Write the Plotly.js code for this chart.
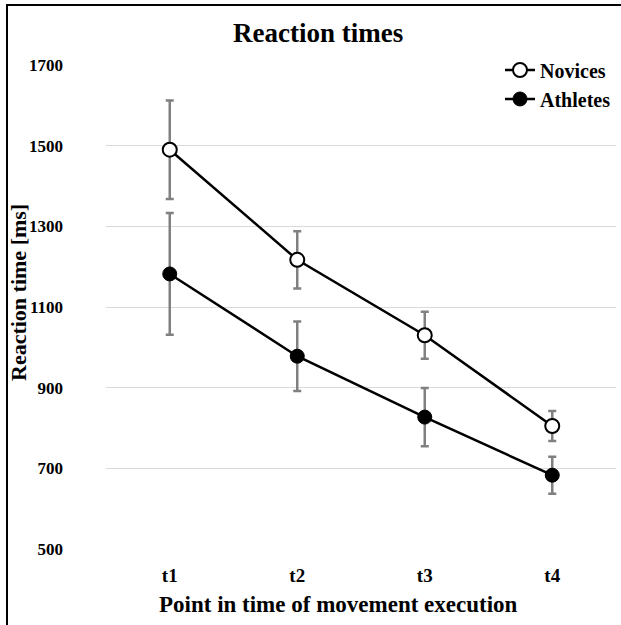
<!DOCTYPE html>
<html>
<head>
<meta charset="utf-8">
<script src="https://cdn.plot.ly/plotly-3.0.1.min.js"></script>
<style>
  html, body { margin: 0; padding: 0; background: #fff; overflow: hidden; }
  #chart { position: absolute; left: 0; top: 0; width: 621px; height: 625px; }
  #frame { position: absolute; left: 6px; top: 4px; width: 700px; height: 700px;
           border-left: 2px solid #000; border-top: 2px solid #000; pointer-events: none; }
</style>
</head>
<body>
<div id="chart"></div>
<div id="frame"></div>
<script>
const categories = ["t1", "t2", "t3", "t4"];
const novices = [1490, 1217, 1030, 805];
const novicesErr = [122, 71, 58, 37];
const athletes = [1182, 978, 827, 683];
const athletesErr = [151, 86, 72, 46];
const yTicks = [500, 700, 900, 1100, 1300, 1500, 1700];

const font = "Liberation Serif, Times New Roman, serif";

const traces = [
  {
    name: "Novices", x: categories, y: novices, type: "scatter", mode: "lines+markers",
    line: { color: "#000", width: 2.5 },
    marker: { size: 14, color: "#fff", line: { color: "#000", width: 2 } },
    error_y: { type: "data", array: novicesErr, visible: true, color: "#808080", thickness: 2.5, width: 4 }
  },
  {
    name: "Athletes", x: categories, y: athletes, type: "scatter", mode: "lines+markers",
    line: { color: "#000", width: 2.5 },
    marker: { size: 14, color: "#000", line: { color: "#000", width: 1 } },
    error_y: { type: "data", array: athletesErr, visible: true, color: "#808080", thickness: 2.5, width: 4 }
  }
];

const layout = {
  width: 621, height: 625,
  margin: { l: 106, r: 5, t: 65, b: 76, pad: 0 },
  paper_bgcolor: "#fff", plot_bgcolor: "#fff",
  font: { family: font, color: "#000", size: 18, weight: "bold" },
  xaxis: {
    type: "category", range: [-0.5, 3.5],
    showgrid: false, zeroline: false, showline: false, ticks: "",
    tickfont: { family: font, size: 19, color: "#000", weight: "bold" },
    ticklabelstandoff: 13
  },
  yaxis: {
    range: [500, 1700], tickvals: yTicks, ticktext: yTicks.map(String),
    showgrid: true, gridcolor: "#d9d9d9", gridwidth: 1,
    zeroline: false, showline: false, ticks: "",
    tickfont: { family: font, size: 17, color: "#000", weight: "bold" },
    ticklabelstandoff: 42
  },
  annotations: [
    { text: "<b>Reaction times</b>", xref: "paper", yref: "paper", x: 0.4157, y: 1.066,
      xanchor: "center", yanchor: "middle", showarrow: false,
      font: { family: font, size: 27, color: "#000" } },
    { text: "<b>Point in time of movement execution</b>", xref: "paper", yref: "paper", x: 0.455, y: -0.1157,
      xanchor: "center", yanchor: "middle", showarrow: false,
      font: { family: font, size: 23, color: "#000" } },
    { text: "<b>Reaction time [ms]</b>", xref: "paper", yref: "paper", x: -0.1706, y: 0.531,
      xanchor: "center", yanchor: "middle", showarrow: false, textangle: -90,
      font: { family: font, size: 22, color: "#000" } }
  ],
  showlegend: true,
  legend: {
    x: 1.0, xanchor: "right", y: 1.03, yanchor: "top",
    bgcolor: "rgba(0,0,0,0)", borderwidth: 0,
    font: { family: font, size: 20, color: "#000", weight: "bold" },
    itemwidth: 30, tracegroupgap: 0
  }
};

Plotly.newPlot("chart", traces, layout, { displayModeBar: false, staticPlot: true });
</script>
</body>
</html>
